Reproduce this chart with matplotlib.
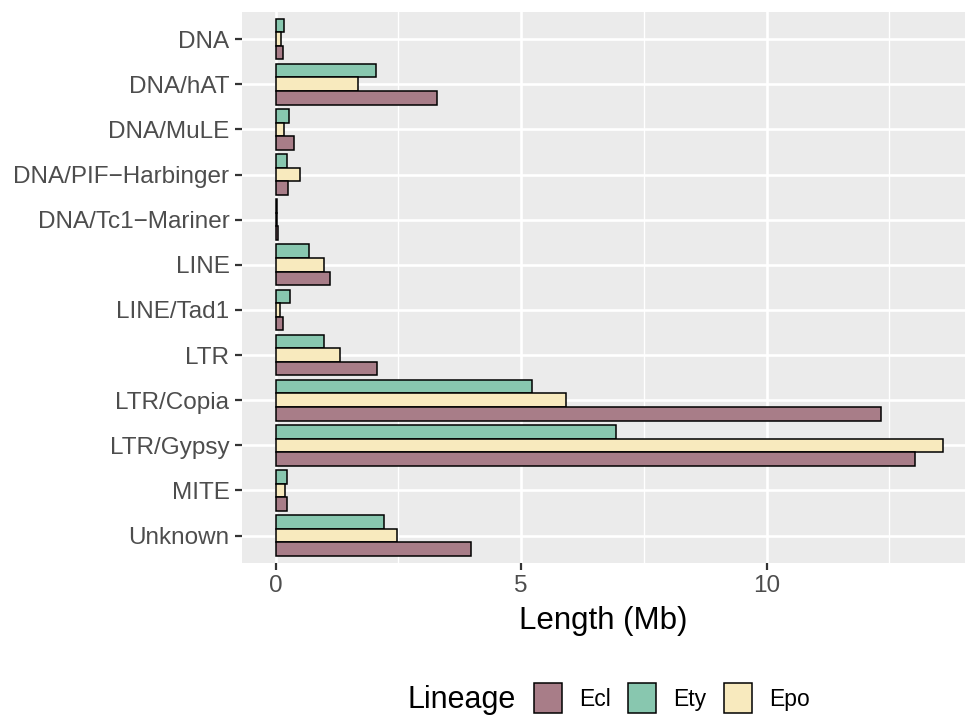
import numpy as np
import matplotlib
matplotlib.use("Agg")
import matplotlib.pyplot as plt
from matplotlib.patches import Patch

plt.rcParams['font.family'] = ['Liberation Sans', 'DejaVu Sans']

# repeat families, top to bottom
categories = ["DNA", "DNA/hAT", "DNA/MuLE", "DNA/PIF\u2212Harbinger", "DNA/Tc1\u2212Mariner",
              "LINE", "LINE/Tad1", "LTR", "LTR/Copia", "LTR/Gypsy", "MITE", "Unknown"]
# length in Mb per lineage
ecl = [0.15, 3.28, 0.37, 0.26, 0.04, 1.11, 0.15, 2.07, 12.32, 13.03, 0.24, 3.97]
ety = [0.16, 2.05, 0.27, 0.24, 0.03, 0.68, 0.30, 0.99, 5.23, 6.94, 0.24, 2.21]
epo = [0.11, 1.68, 0.17, 0.49, 0.03, 0.98, 0.08, 1.32, 5.91, 13.60, 0.18, 2.47]

lineages = ["Ecl", "Ety", "Epo"]
colors = {"Ecl": "#A87D88", "Ety": "#88C7AF", "Epo": "#F8EABE"}
# dodge offsets (inverted y axis: negative = higher up)
offsets = {"Ety": -0.3, "Epo": 0.0, "Ecl": 0.3}
values = {"Ecl": ecl, "Ety": ety, "Epo": epo}

fig = plt.figure(figsize=(9.65, 7.15), dpi=100)
ax = fig.add_axes([242 / 965, 1 - 562.7 / 715, 1 - 242 / 965, (562.7 - 12) / 715])
ax.set_facecolor("#EBEBEB")

y = np.arange(len(categories))
for lin in ["Ety", "Epo", "Ecl"]:
    ax.barh(y + offsets[lin], values[lin], height=0.3, color=colors[lin],
            edgecolor="black", linewidth=1.1, zorder=3)

ax.set_ylim(len(categories) - 0.4, -0.6)
ax.set_xlim(-0.686, 14.04)
ax.set_yticks(y)
ax.set_yticklabels(categories)
ax.set_xticks([0, 5, 10])
ax.set_xticks([2.5, 7.5, 12.5], minor=True)
ax.grid(which="major", color="white", linewidth=1.9, zorder=0)
ax.grid(which="minor", axis="x", color="white", linewidth=0.95, zorder=0)
ax.set_axisbelow(True)
for s in ax.spines.values():
    s.set_visible(False)
ax.tick_params(axis="both", which="major", length=5, width=1.6, color="#333333",
               labelsize=17.5, labelcolor="#4D4D4D", pad=4)
ax.tick_params(axis="both", which="minor", length=0)
ax.set_xlabel("Length (Mb)", fontsize=22.5, color="black", labelpad=6)

# legend at the bottom, title on the left
fig.text(408 / 965, 1 - 708 / 715, "Lineage", fontsize=22, ha="left", va="baseline")
handles = [Patch(facecolor=colors[l], edgecolor="black", linewidth=1.1) for l in lineages]
fig.legend(handles, lineages, loc="center left", bbox_to_anchor=(534 / 965, 1 - 698 / 715),
           ncol=3, frameon=False, fontsize=16.5, handlelength=1.22, handleheight=1.6,
           handletextpad=0.75, columnspacing=0.75, borderaxespad=0, borderpad=0)

fig.savefig("out.png", dpi=100)
